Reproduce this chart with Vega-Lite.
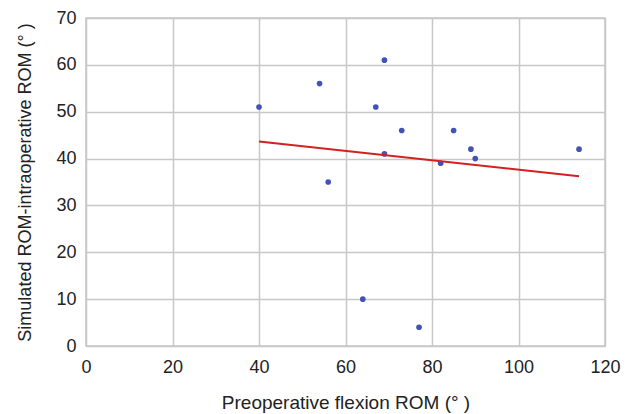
{
  "$schema": "https://vega.github.io/schema/vega-lite/v6.json",
  "autosize": "none",
  "width": 519,
  "height": 328,
  "padding": {"left": 86, "top": 18, "right": 35, "bottom": 68},
  "background": "white",
  "config": {
    "view": {"stroke": "#c8c8c8", "strokeWidth": 1.5},
    "font": "Liberation Sans",
    "axis": {
      "grid": true,
      "gridColor": "#c8c8c8",
      "gridWidth": 1.5,
      "gridOpacity": 1,
      "domain": false,
      "ticks": false,
      "labelFlush": false,
      "labelFont": "Liberation Sans",
      "labelFontSize": 18,
      "labelColor": "#222222",
      "titleFont": "Liberation Sans",
      "titleFontSize": 18,
      "titleFontWeight": "normal",
      "titleColor": "#222222"
    }
  },
  "data": {
    "values": [
      {"x": 40, "y": 51},
      {"x": 54, "y": 56},
      {"x": 56, "y": 35},
      {"x": 64, "y": 10},
      {"x": 67, "y": 51},
      {"x": 69, "y": 61},
      {"x": 69, "y": 41},
      {"x": 73, "y": 46},
      {"x": 77, "y": 4},
      {"x": 82, "y": 39},
      {"x": 85, "y": 46},
      {"x": 89, "y": 42},
      {"x": 90, "y": 40},
      {"x": 114, "y": 42}
    ]
  },
  "layer": [
    {
      "mark": {"type": "circle", "size": 32, "color": "#4153b8", "opacity": 1},
      "encoding": {
        "x": {
          "field": "x", "type": "quantitative",
          "scale": {"domain": [0, 120], "nice": false},
          "axis": {"values": [0, 20, 40, 60, 80, 100, 120], "title": "Preoperative flexion ROM (° )", "titleFontSize": 19, "labelPadding": 12, "titlePadding": 17}
        },
        "y": {
          "field": "y", "type": "quantitative",
          "scale": {"domain": [0, 70], "nice": false},
          "axis": {"values": [0, 10, 20, 30, 40, 50, 60, 70], "title": "Simulated ROM-intraoperative ROM (° )", "labelPadding": 10, "titlePadding": 21}
        }
      }
    },
    {
      "transform": [{"regression": "y", "on": "x"}],
      "mark": {"type": "line", "color": "#d42020", "strokeWidth": 2},
      "encoding": {
        "x": {"field": "x", "type": "quantitative"},
        "y": {"field": "y", "type": "quantitative"}
      }
    }
  ]
}
